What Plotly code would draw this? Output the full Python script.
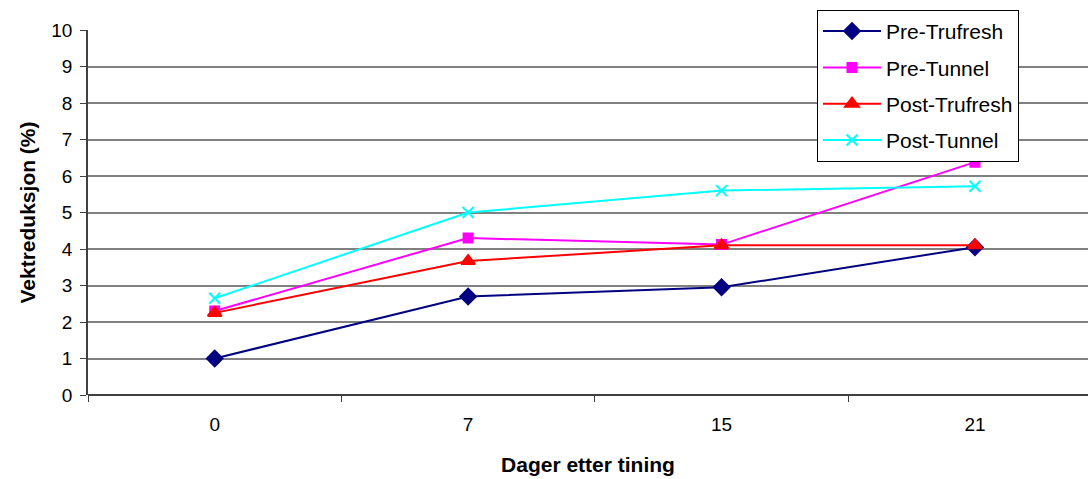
import plotly.graph_objects as go

days = ["0", "7", "15", "21"]
pre_trufresh = [1.0, 2.7, 2.95, 4.05]
pre_tunnel = [2.3, 4.3, 4.12, 6.38]
post_trufresh = [2.25, 3.67, 4.1, 4.1]
post_tunnel = [2.65, 5.0, 5.6, 5.72]

pos = list(range(len(days)))

series = [
    ("Pre-Trufresh", pre_trufresh, "#000080", "diamond", 12),
    ("Pre-Tunnel", pre_tunnel, "#FF00FF", "square", 9),
    ("Post-Trufresh", post_trufresh, "#FF0000", "triangle-up", 12),
    ("Post-Tunnel", post_tunnel, "#00FFFF", "x-thin-open", 11),
]

fig = go.Figure()
for name, vals, color, sym, size in series:
    fig.add_trace(go.Scatter(
        x=pos, y=vals, name=name, mode="lines+markers",
        legendgroup=name,
        line=dict(color=color, width=2),
        marker=dict(symbol=sym, size=size, color=color,
                    line=dict(color=color, width=2)),
    ))

font = "Liberation Sans, Arial, sans-serif"
fig.update_layout(
    width=1088, height=479,
    margin=dict(l=88, r=0, t=30, b=84),
    plot_bgcolor="white", paper_bgcolor="white",
    font=dict(family=font, size=19, color="black"),
    showlegend=True,
    legend=dict(
        x=0.729, y=1.055, xanchor="left", yanchor="top",
        bgcolor="white", bordercolor="black", borderwidth=1,
        font=dict(size=21), itemwidth=58, tracegroupgap=6,
    ),
    xaxis=dict(
        range=[-0.5, 3.446],
        tickmode="array", tickvals=pos, ticktext=days,
        ticks="", showgrid=False, zeroline=False,
        showline=False, ticklabelstandoff=16,
        minor=dict(tickvals=[-0.5, 0.5, 1.5, 2.5], ticks="outside",
                   ticklen=6, tickcolor="#404040", tickwidth=1, showgrid=False),
        title=dict(text="<b>Dager etter tining</b>", standoff=23,
                   font=dict(size=21)),
        tickfont=dict(size=19),
    ),
    yaxis=dict(
        range=[0, 10], dtick=1,
        showgrid=True, gridcolor="#808080", gridwidth=1.5,
        zeroline=True, zerolinecolor="#404040", zerolinewidth=2,
        showline=True, linecolor="#404040", linewidth=1.5,
        ticks="outside", ticklen=6, tickcolor="#404040",
        ticklabelstandoff=4,
        title=dict(text="<b>Vektreduksjon (%)</b>", standoff=10,
                   font=dict(size=21)),
        tickfont=dict(size=19),
    ),
)

fig.write_html("out.html")
